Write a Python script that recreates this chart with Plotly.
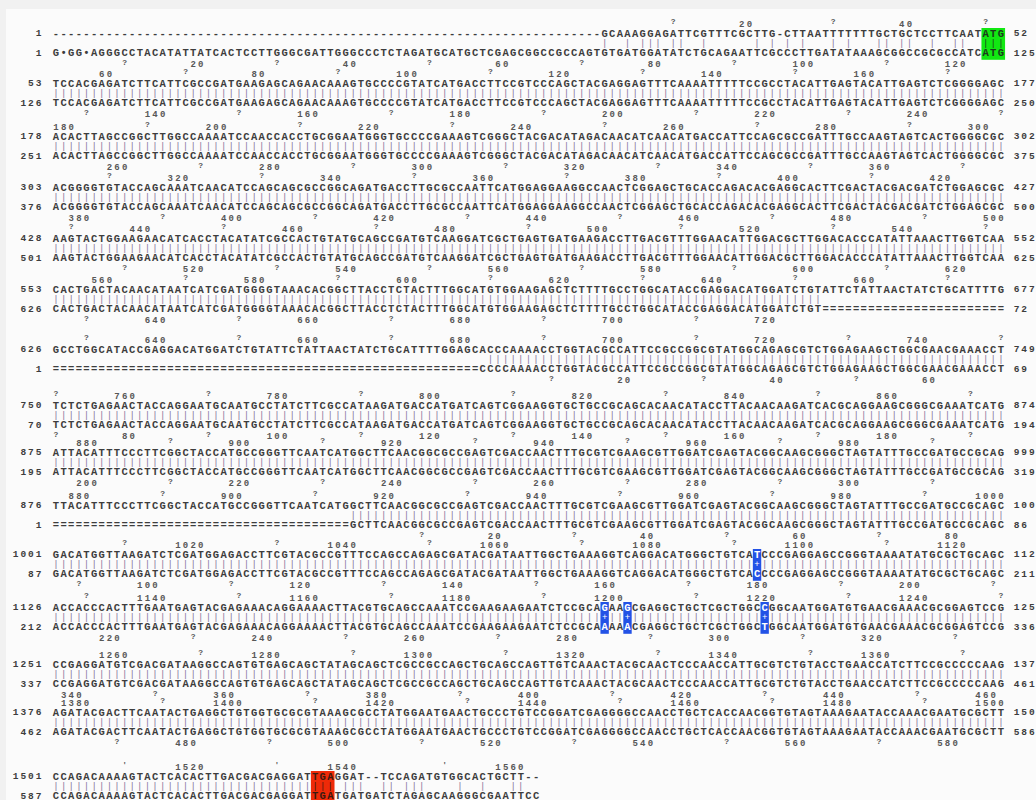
import plotly.graph_objects as go

# ---------------- data ----------------
B1_TOP = "------------------------------------------------------------------------GCAAAGGAGATTCGTTTCGCTTG-CTTAATTTTTTTGCTGCTCCTTCAATATG"
B1_BOT = "G•GG•AGGGCCTACATATTATCACTCCTTGGGCGATTGGGCCCTCTAGATGCATGCTCGAGCGGCCGCCAGTGTGATGGATATCTGCAGAATTCGCCCTTGATATAAAGCGGCCGCGCCATCATG"
S2 = "TCCACGAGATCTTCATTCGCCGATGAAGAGCAGAACAAAGTGCCCCGTATCATGACCTTCCGTCCCAGCTACGAGGAGTTTCAAAATTTTTCCGCCTACATTGAGTACATTGAGTCTCGGGGAGC"
S3 = "ACACTTAGCCGGCTTGGCCAAAATCCAACCACCTGCGGAATGGGTGCCCCGAAAGTCGGGCTACGACATAGACAACATCAACATGACCATTCCAGCGCCGATTTGCCAAGTAGTCACTGGGGCGC"
S4 = "ACGGGGTGTACCAGCAAATCAACATCCAGCAGCGCCGGCAGATGACCTTGCGCCAATTCATGGAGGAAGGCCAACTCGGAGCTGCACCAGACACGAGGCACTTCGACTACGACGATCTGGAGCGC"
S5 = "AAGTACTGGAAGAACATCACCTACATATCGCCACTGTATGCAGCCGATGTCAAGGATCGCTGAGTGATGAAGACCTTGACGTTTGGAACATTGGACGCTTGGACACCCATATTAAACTTGGTCAA"
B6_TOP = "CACTGACTACAACATAATCATCGATGGGGTAAACACGGCTTACCTCTACTTTGGCATGTGGAAGAGCTCTTTTGCCTGGCATACCGAGGACATGGATCTGTATTCTATTAACTATCTGCATTTTG"
B6_BOT = "CACTGACTACAACATAATCATCGATGGGGTAAACACGGCTTACCTCTACTTTGGCATGTGGAAGAGCTCTTTTGCCTGGCATACCGAGGACATGGATCTGT========================"
B7_TOP = "GCCTGGCATACCGAGGACATGGATCTGTATTCTATTAACTATCTGCATTTTGGAGCACCCAAAACCTGGTACGCCATTCCGCCGGCGTATGGCAGAGCGTCTGGAGAAGCTGGCGAACGAAACCT"
B7_BOT = "========================================================CCCCAAAACCTGGTACGCCATTCCGCCGGCGTATGGCAGAGCGTCTGGAGAAGCTGGCGAACGAAACCT"
S8 = "TCTCTGAGAACTACCAGGAATGCAATGCCTATCTTCGCCATAAGATGACCATGATCAGTCGGAAGGTGCTGCCGCAGCACAACATACCTTACAACAAGATCACGCAGGAAGCGGGCGAAATCATG"
S9 = "ATTACATTTCCCTTCGGCTACCATGCCGGGTTCAATCATGGCTTCAACGGCGCCGAGTCGACCAACTTTGCGTCGAAGCGTTGGATCGAGTACGGCAAGCGGGCTAGTATTTGCCGATGCCGCAG"
B10_TOP = "TTACATTTCCCTTCGGCTACCATGCCGGGTTCAATCATGGCTTCAACGGCGCCGAGTCGACCAACTTTGCGTCGAAGCGTTGGATCGAGTACGGCAAGCGGGCTAGTATTTGCCGATGCCGCAGC"
B10_BOT = "=======================================GCTTCAACGGCGCCGAGTCGACCAACTTTGCGTCGAAGCGTTGGATCGAGTACGGCAAGCGGGCTAGTATTTGCCGATGCCGCAGC"
B11_TOP = "GACATGGTTAAGATCTCGATGGAGACCTTCGTACGCCGTTTCCAGCCAGAGCGATACGATAATTGGCTGAAAGGTCAGGACATGGGCTGTCATCCCGAGGAGCCGGGTAAAATATGCGCTGCAGC"
B11_BOT = "GACATGGTTAAGATCTCGATGGAGACCTTCGTACGCCGTTTCCAGCCAGAGCGATACGATAATTGGCTGAAAGGTCAGGACATGGGCTGTCACCCCGAGGAGCCGGGTAAAATATGCGCTGCAGC"
B12_TOP = "ACCACCCACTTTGAATGAGTACGAGAAACAGGAAAACTTACGTGCAGCCAAATCCGAAGAAGAATCTCCGCAGAAGCGAGGCTGCTCGCTGGCCGGCAATGGATGTGAACGAAACGCGGAGTCCG"
B12_BOT = "ACCACCCACTTTGAATGAGTACGAGAAACAGGAAAACTTACGTGCAGCCAAATCCGAAGAAGAATCTCCGCAAAAACGAGGCTGCTCGCTGGCTGGCAATGGATGTGAACGAAACGCGGAGTCCG"
S13 = "CCGAGGATGTCGACGATAAGGCCAGTGTGAGCAGCTATAGCAGCTCGCCGCCAGCTGCAGCCAGTTGTCAAACTACGCAACTCCCAACCATTGCGTCTGTACCTGAACCATCTTCCGCCCCCAAG"
S14 = "AGATACGACTTCAATACTGAGGCTGTGGTGCGCGTAAAGCGCCTATGGAATGAACTGCCCTGTCCGGATCGAGGGGCCAACCTGCTCACCAACGGTGTAGTAAAGAATACCAAACGAATGCGCTT"
B15_TOP = "CCAGACAAAAGTACTCACACTTGACGACGAGGATTGAGGAT--TCCAGATGTGGCACTGCTT--"
B15_BOT = "CCAGACAAAAGTACTCACACTTGACGACGAGGATTGATGATGATCTAGAGCAAGGGCGAATTCC"

TOP_SEQ = [B1_TOP, S2, S3, S4, S5, B6_TOP, B7_TOP, S8, S9, B10_TOP, B11_TOP, B12_TOP, S13, S14, B15_TOP]
BOT_SEQ = [B1_BOT, S2, S3, S4, S5, B6_BOT, B7_BOT, S8, S9, B10_BOT, B11_BOT, B12_BOT, S13, S14, B15_BOT]

TOP_START = [1, 53, 178, 303, 428, 553, 626, 750, 875, 876, 1001, 1126, 1251, 1376, 1501]
BOT_START = [1, 126, 251, 376, 501, 626, 1, 70, 195, 1, 87, 212, 337, 462, 587]
TOP_END_LABEL = ["52", "177", "302", "427", "552", "677", "749", "874", "999", "1000", "1125", "1250", "1375", "1500", ""]
BOT_END_LABEL = ["125", "250", "375", "500", "625", "72", "69", "194", "319", "86", "211", "336", "461", "586", ""]

# highlighted features: (block, first column, last column, kind)
HIGHLIGHTS = [(0, 123, 125, "start"), (10, 93, 93, "snp"), (11, 73, 73, "snp"),
              (11, 76, 76, "snp"), (11, 94, 94, "snp"), (14, 35, 37, "stop")]

# ---------------- layout / style ----------------
PITCH = 7.62
X0 = 56.0
W, H = 1036, 800
BLOCK_Y = [34, 84, 137, 188, 239, 290, 350, 406, 453, 506, 555, 608, 665, 713, 777]
TICK_GLYPH = ["?"] * 14 + ["'"]
DY_RULER_TOP, DY_BARS, DY_BOT, DY_RULER_BOT = -9.7, 9.6, 19.3, 31.0
LEFT_LAST_DIGIT_PX = 38.5
RIGHT_FIRST_DIGIT_PX = 1016.5

FILL = {"start": "#12e812", "snp": "#2352e6", "stop": "#ee2a08"}
INK = {"start": "#1c3a1c", "snp": "#ffffff", "stop": "#3a1a10"}
SEQ_COLOR = "#3d3d3d"
BAR_COLOR = "#86729a"
RULER_COLOR = "#575757"
FONT = "Liberation Mono"
GAPS = set("-=")


def px_to_col(px):
    return 1 + (px - X0) / PITCH


seq_x, seq_y, seq_t, seq_c = [], [], [], []
bar_x, bar_y, bar_t, bar_c = [], [], [], []
rnum_x, rnum_y, rnum_t = [], [], []
rtick_x, rtick_y, rtick_t = [], [], []
lab_x, lab_y, lab_t = [], [], []
shapes = []

# page panel
shapes.append(dict(type="rect", xref="x", yref="y", x0=px_to_col(6), x1=px_to_col(W + 5),
                   y0=9, y1=H + 5, fillcolor="#fbfbfb", line=dict(width=0), layer="below"))


def add_ruler(seq, start, y, tick):
    count = 0
    for i, ch in enumerate(seq):
        if ch in GAPS:
            continue
        count += 1
        pos = start + count - 1
        col = i + 1
        if pos % 20 == 0:
            s = str(pos)
            for k, d in enumerate(s):
                rnum_x.append(col - (len(s) - 1 - k))
                rnum_y.append(y)
                rnum_t.append(d)
        elif pos % 10 == 0:
            rtick_x.append(col)
            rtick_y.append(y - 2)
            rtick_t.append(tick)


def add_label(s, y, left):
    if left:
        c_last = px_to_col(LEFT_LAST_DIGIT_PX)
        for k, d in enumerate(s):
            lab_x.append(c_last - (len(s) - 1 - k)); lab_y.append(y); lab_t.append(d)
    else:
        c_first = px_to_col(RIGHT_FIRST_DIGIT_PX)
        for k, d in enumerate(s):
            lab_x.append(c_first + k); lab_y.append(y); lab_t.append(d)


for b, (top, bot) in enumerate(zip(TOP_SEQ, BOT_SEQ)):
    yt = BLOCK_Y[b]
    yb = yt + DY_BOT
    ink = {}
    for hb, c1, c2, kind in HIGHLIGHTS:
        if hb == b:
            shapes.append(dict(type="rect", xref="x", yref="y", x0=c1 - 0.55, x1=c2 + 0.55,
                               y0=yt - 6, y1=yb + 6.5, fillcolor=FILL[kind],
                               line=dict(width=0), layer="below"))
            for c in range(c1, c2 + 1):
                ink[c] = INK[kind]
    for i, ch in enumerate(top):
        seq_x.append(i + 1); seq_y.append(yt); seq_t.append(ch); seq_c.append(ink.get(i + 1, SEQ_COLOR))
    for i, ch in enumerate(bot):
        seq_x.append(i + 1); seq_y.append(yb); seq_t.append(ch); seq_c.append(ink.get(i + 1, SEQ_COLOR))
    for i in range(min(len(top), len(bot))):
        a, z = top[i], bot[i]
        c = i + 1
        if a in GAPS or z in GAPS:
            continue
        if a == z and a != "•":
            bar_x.append(c); bar_y.append(yt + DY_BARS); bar_t.append("|")
            bar_c.append(ink.get(c, BAR_COLOR))
        elif c in ink:
            bar_x.append(c); bar_y.append(yt + DY_BARS); bar_t.append("+")
            bar_c.append(ink[c])
    add_ruler(top, TOP_START[b], yt + DY_RULER_TOP, TICK_GLYPH[b])
    add_ruler(bot, BOT_START[b], yb + (DY_RULER_BOT - DY_BOT), TICK_GLYPH[b])
    add_label(str(TOP_START[b]), yt, True)
    add_label(str(BOT_START[b]), yb, True)
    add_label(TOP_END_LABEL[b], yt, False)
    add_label(BOT_END_LABEL[b], yb, False)

fig = go.Figure()
fig.add_trace(go.Scatter(x=seq_x, y=seq_y, text=seq_t, mode="text", hoverinfo="skip",
                         textposition="middle center",
                         textfont=dict(family=FONT, size=10.5, color=seq_c, weight="bold")))
fig.add_trace(go.Scatter(x=bar_x, y=bar_y, text=bar_t, mode="text", hoverinfo="skip",
                         textposition="middle center",
                         textfont=dict(family=FONT, size=9, color=bar_c)))
fig.add_trace(go.Scatter(x=rnum_x, y=rnum_y, text=rnum_t, mode="text", hoverinfo="skip",
                         textposition="middle center",
                         textfont=dict(family=FONT, size=9, color=RULER_COLOR, weight="bold")))
fig.add_trace(go.Scatter(x=rtick_x, y=rtick_y, text=rtick_t, mode="text", hoverinfo="skip",
                         textposition="middle center",
                         textfont=dict(family=FONT, size=8, color=RULER_COLOR, weight="bold")))
fig.add_trace(go.Scatter(x=lab_x, y=lab_y, text=lab_t, mode="text", hoverinfo="skip",
                         textposition="middle center",
                         textfont=dict(family=FONT, size=9.5, color=SEQ_COLOR, weight="bold")))

fig.update_layout(
    width=W, height=H, margin=dict(l=0, r=0, t=0, b=0),
    paper_bgcolor="#f1f1f1", plot_bgcolor="#f1f1f1", showlegend=False,
    xaxis=dict(range=[px_to_col(0), px_to_col(W)], visible=False, fixedrange=True),
    yaxis=dict(range=[H, 0], visible=False, fixedrange=True),
    shapes=shapes,
)

fig.write_html("out.html", config={"displayModeBar": False},
               post_script="document.body.style.margin='0';document.body.style.overflow='hidden';")
